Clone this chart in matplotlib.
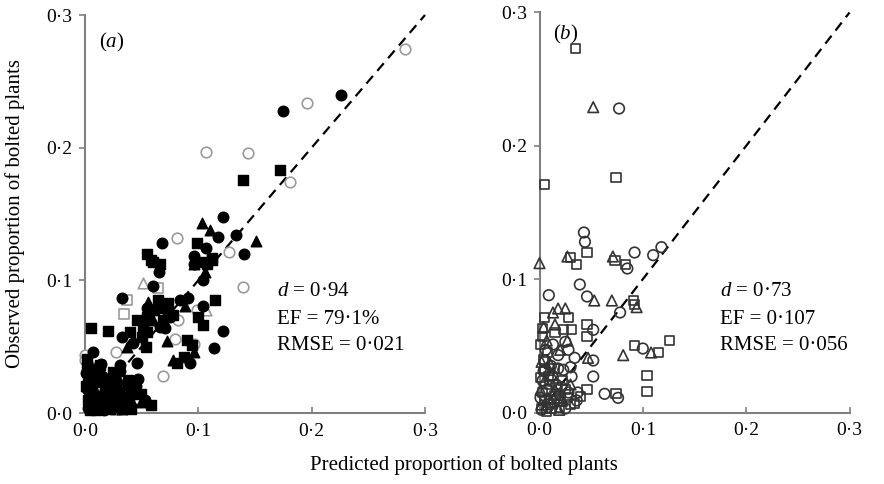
import matplotlib
matplotlib.use("Agg")
import matplotlib.pyplot as plt

plt.rcParams['font.family'] = ['Liberation Serif', 'DejaVu Serif']
plt.rcParams['mathtext.fontset'] = 'custom'
plt.rcParams['mathtext.it'] = 'Liberation Serif:italic'
plt.rcParams['mathtext.rm'] = 'Liberation Serif'

# ---------------- Panel (a) data ----------------
a_fc_x = [0.175, 0.226, 0.122, 0.117, 0.133, 0.068, 0.107, 0.140, 0.096, 0.065, 0.096, 0.104,
          0.060, 0.033, 0.055, 0.062, 0.084, 0.091, 0.104, 0.122, 0.073, 0.075, 0.071, 0.066,
          0.114, 0.033, 0.042, 0.007, 0.093, 0.031, 0.031, 0.046, 0.047, 0.038, 0.035, 0.009,
          0.018, 0.027, 0.004, 0.013, 0.022, 0.040, 0.003, 0.053, 0.015, 0.025, 0.008, 0.045,
          0.002, 0.011, 0.020, 0.029, 0.036, 0.006, 0.017, 0.024, 0.032, 0.043, 0.001, 0.014]
a_fc_y = [0.228, 0.240, 0.148, 0.133, 0.134, 0.128, 0.124, 0.120, 0.118, 0.106, 0.112, 0.100,
          0.096, 0.087, 0.079, 0.078, 0.085, 0.087, 0.081, 0.062, 0.076, 0.072, 0.064, 0.065,
          0.049, 0.057, 0.053, 0.046, 0.038, 0.036, 0.032, 0.038, 0.026, 0.020, 0.012, 0.025,
          0.017, 0.010, 0.014, 0.006, 0.021, 0.006, 0.004, 0.010, 0.028, 0.004, 0.033, 0.020,
          0.018, 0.013, 0.009, 0.016, 0.004, 0.022, 0.002, 0.027, 0.008, 0.014, 0.030, 0.037]

a_fs_x = [0.139, 0.172, 0.099, 0.055, 0.058, 0.066, 0.060, 0.102, 0.112, 0.108, 0.112, 0.064,
          0.073, 0.068, 0.115, 0.100, 0.104, 0.046, 0.055, 0.051, 0.069, 0.078, 0.005, 0.020,
          0.040, 0.055, 0.050, 0.090, 0.094, 0.054, 0.002, 0.087, 0.081, 0.013, 0.049, 0.003,
          0.006, 0.012, 0.020, 0.029, 0.003, 0.035, 0.004, 0.018, 0.025, 0.058, 0.044, 0.010,
          0.030, 0.001, 0.016, 0.008, 0.022, 0.034, 0.041, 0.002, 0.014, 0.027, 0.038, 0.009,
          0.019]
a_fs_y = [0.176, 0.183, 0.128, 0.120, 0.115, 0.112, 0.114, 0.114, 0.115, 0.112, 0.117, 0.085,
          0.083, 0.079, 0.085, 0.072, 0.066, 0.070, 0.072, 0.065, 0.070, 0.074, 0.064, 0.062,
          0.061, 0.061, 0.057, 0.055, 0.051, 0.050, 0.041, 0.042, 0.038, 0.036, 0.014, 0.029,
          0.019, 0.011, 0.014, 0.006, 0.010, 0.004, 0.002, 0.026, 0.031, 0.006, 0.019, 0.002,
          0.016, 0.020, 0.008, 0.006, 0.003, 0.012, 0.003, 0.034, 0.023, 0.021, 0.025, 0.029,
          0.004]

a_ft_x = [0.103, 0.110, 0.151, 0.096, 0.106, 0.056, 0.088, 0.055, 0.072, 0.096, 0.037, 0.078,
          0.022, 0.040, 0.009, 0.049, 0.060, 0.030, 0.015, 0.033]
a_ft_y = [0.143, 0.138, 0.130, 0.112, 0.106, 0.084, 0.081, 0.075, 0.054, 0.046, 0.050, 0.040,
          0.014, 0.011, 0.017, 0.008, 0.070, 0.025, 0.005, 0.003]

a_oc_x = [0.282, 0.196, 0.107, 0.144, 0.181, 0.081, 0.127, 0.139, 0.099, 0.082, 0.079, 0.096,
          0.027, 0.000, 0.069, 0.000]
a_oc_y = [0.274, 0.234, 0.197, 0.196, 0.174, 0.132, 0.121, 0.095, 0.078, 0.070, 0.056, 0.052,
          0.046, 0.044, 0.028, 0.040]

a_os_x = [0.064, 0.037, 0.034, 0.013, 0.027, 0.040]
a_os_y = [0.094, 0.085, 0.075, 0.002, 0.002, 0.003]

a_ot_x = [0.051, 0.107, 0.007]
a_ot_y = [0.098, 0.078, 0.035]

# ---------------- Panel (b) data ----------------
b_os_x = [0.035, 0.005, 0.074, 0.046, 0.030, 0.036, 0.073, 0.083, 0.091, 0.092, 0.028, 0.005,
          0.046, 0.023, 0.031, 0.015, 0.003, 0.003, 0.046, 0.092, 0.115, 0.126, 0.104, 0.104,
          0.074, 0.046, 0.034, 0.040, 0.001, 0.005, 0.010, 0.015, 0.020, 0.005, 0.025, 0.030,
          0.002, 0.012, 0.008, 0.022, 0.003, 0.009, 0.014, 0.019, 0.004, 0.011, 0.017, 0.027,
          0.007, 0.001]
b_os_y = [0.273, 0.171, 0.176, 0.120, 0.116, 0.111, 0.114, 0.111, 0.084, 0.081, 0.071, 0.071,
          0.066, 0.062, 0.062, 0.060, 0.063, 0.057, 0.057, 0.050, 0.045, 0.054, 0.028, 0.016,
          0.014, 0.017, 0.007, 0.012, 0.051, 0.032, 0.021, 0.013, 0.008, 0.009, 0.017, 0.006,
          0.003, 0.003, 0.045, 0.024, 0.015, 0.027, 0.033, 0.004, 0.040, 0.007, 0.019, 0.011,
          0.001, 0.026]

b_oc_x = [0.077, 0.043, 0.044, 0.092, 0.110, 0.118, 0.085, 0.039, 0.009, 0.046, 0.078, 0.052,
          0.100, 0.028, 0.034, 0.052, 0.018, 0.023, 0.031, 0.052, 0.037, 0.063, 0.076, 0.036,
          0.005, 0.012, 0.007, 0.020, 0.016, 0.028, 0.003, 0.010, 0.025, 0.001, 0.018, 0.013,
          0.025, 0.002, 0.008, 0.014, 0.021, 0.004, 0.011, 0.006, 0.017, 0.030]
b_oc_y = [0.228, 0.135, 0.128, 0.120, 0.118, 0.124, 0.108, 0.096, 0.088, 0.087, 0.075, 0.062,
          0.048, 0.047, 0.041, 0.039, 0.033, 0.032, 0.027, 0.027, 0.015, 0.014, 0.011, 0.009,
          0.039, 0.028, 0.017, 0.013, 0.021, 0.015, 0.024, 0.006, 0.003, 0.011, 0.043, 0.051,
          0.053, 0.002, 0.004, 0.008, 0.019, 0.031, 0.035, 0.047, 0.010, 0.034]

b_ot_x = [0.052, 0.000, 0.027, 0.071, 0.053, 0.070, 0.094, 0.013, 0.018, 0.025, 0.027, 0.007,
          0.047, 0.002, 0.010, 0.081, 0.108, 0.005, 0.015, 0.008, 0.022, 0.002, 0.030, 0.020,
          0.015, 0.004, 0.012, 0.019, 0.001, 0.009]
b_ot_y = [0.229, 0.112, 0.117, 0.117, 0.084, 0.084, 0.079, 0.075, 0.078, 0.078, 0.054, 0.054,
          0.041, 0.038, 0.037, 0.043, 0.045, 0.024, 0.017, 0.011, 0.009, 0.006, 0.021, 0.047,
          0.066, 0.064, 0.028, 0.002, 0.017, 0.032]

ticks = [0.0, 0.1, 0.2, 0.3]
tick_labels = ["0·0", "0·1", "0·2", "0·3"]

fig = plt.figure(figsize=(8.84, 4.84), dpi=100)
axa = fig.add_axes([85/884, 71/484, 340/884, 398/484])
axb = fig.add_axes([539.5/884, 71.5/484, 310/884, 400/484])

spine_col = '#808080'
for ax in (axa, axb):
    ax.set_xlim(0, 0.3)
    ax.set_ylim(0, 0.3)
    for s in ('top', 'right'):
        ax.spines[s].set_visible(False)
    for s in ('left', 'bottom'):
        ax.spines[s].set_color(spine_col)
        ax.spines[s].set_linewidth(1.5)
    ax.set_xticks(ticks)
    ax.set_yticks(ticks)
    ax.set_xticklabels(tick_labels)
    ax.set_yticklabels(tick_labels)
    ax.tick_params(axis='x', direction='in', length=4, width=1.2, color=spine_col,
                   labelsize=14, pad=7)
    ax.tick_params(axis='y', direction='out', length=4, width=1.2, color=spine_col,
                   labelsize=14, pad=5)
    ax.plot([0, 0.3], [0, 0.3], color='black', linestyle=(0, (4.5, 3)), linewidth=1.6,
            zorder=1, clip_on=False)

ms = 58
gray = '#9a9a9a'
axa.scatter(a_oc_x, a_oc_y, s=ms, marker='o', facecolors='white', edgecolors=gray,
            linewidths=1.2, zorder=3, clip_on=False)
axa.scatter(a_os_x, a_os_y, s=ms*0.75, marker='s', facecolors='white', edgecolors=gray,
            linewidths=1.2, zorder=3, clip_on=False)
axa.scatter(a_ot_x, a_ot_y, s=ms, marker='^', facecolors='white', edgecolors=gray,
            linewidths=1.2, zorder=3, clip_on=False)
axa.scatter(a_fc_x, a_fc_y, s=ms, marker='o', color='black', zorder=4, clip_on=False)
axa.scatter(a_fs_x, a_fs_y, s=ms*0.75, marker='s', color='black', zorder=4, clip_on=False)
axa.scatter(a_ft_x, a_ft_y, s=ms, marker='^', color='black', zorder=4, clip_on=False)

dk = '#333333'
axb.scatter(b_oc_x, b_oc_y, s=ms, marker='o', facecolors='none', edgecolors=dk,
            linewidths=1.2, zorder=3, clip_on=False)
axb.scatter(b_os_x, b_os_y, s=ms*0.75, marker='s', facecolors='none', edgecolors=dk,
            linewidths=1.2, zorder=3, clip_on=False)
axb.scatter(b_ot_x, b_ot_y, s=ms, marker='^', facecolors='none', edgecolors=dk,
            linewidths=1.2, zorder=3, clip_on=False)

# panel labels
axa.text(0.04, 0.93, r"($\it{a}$)", transform=axa.transAxes, fontsize=15, va='center')
axb.text(0.045, 0.945, r"($\it{b}$)", transform=axb.transAxes, fontsize=15, va='center')

stat_fs = 15
for x0, lines in ((277, ["0·94", "79·1%", "0·021"]),
                  (720, ["0·73", "0·107", "0·056"])):
    fig.text(x0/884, 1 - 292/484, r"$\it{d}$ = " + lines[0], fontsize=stat_fs, va='center')
    fig.text(x0/884, 1 - 319/484, "EF = " + lines[1], fontsize=stat_fs, va='center')
    fig.text(x0/884, 1 - 346/484, "RMSE = " + lines[2], fontsize=stat_fs, va='center')

fig.text(464/884, 1 - 465/484, "Predicted proportion of bolted plants", fontsize=15,
         ha='center', va='center')
fig.text(15/884, 1 - 213/484, "Observed proportion of bolted plants", fontsize=15,
         ha='center', va='center', rotation=90)

fig.savefig("out.png", dpi=100)
